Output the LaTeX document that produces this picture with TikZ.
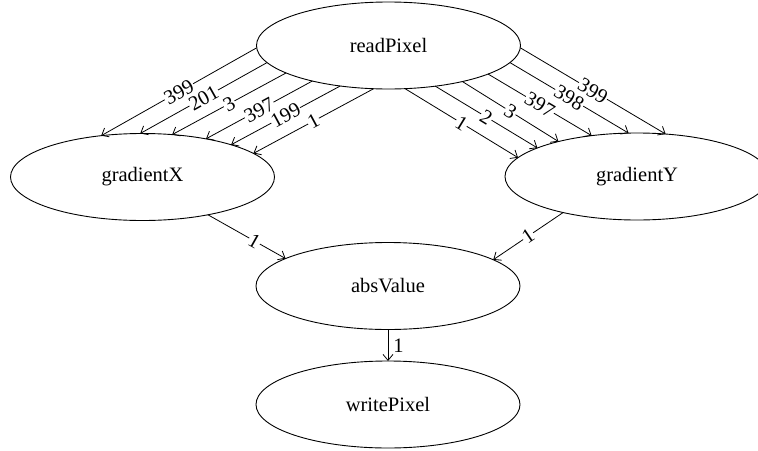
\documentclass[tikz,border=0pt]{standalone}
\usepackage{fontspec}
\setmainfont{Liberation Serif}
\usetikzlibrary{shapes.geometric,arrows.meta}

\tikzset{
  task/.style={draw, ellipse, line width=0.9pt, inner sep=0pt, outer sep=0pt,
    minimum width=264pt, minimum height=87pt,
    font=\fontsize{20.5pt}{24pt}\selectfont},
  flow/.style={line width=0.8pt, -{Straight Barb[length=6pt,width=10pt,line width=0.8pt]}},
  rate/.style={sloped, fill=white, inner sep=0.8pt, pos=0.5,
    font=\fontsize{20.5pt}{24pt}\selectfont},
}

\begin{document}
\begin{tikzpicture}[x=1pt, y=-1pt]
  \useasboundingbox (0,0) rectangle (758,450);
  \clip (0,0) rectangle (758,450);

  % tasks
  \node[task] (rp) at (388.5,45.5) {readPixel};
  \node[task] (gx) at (142.5,177)  {gradientX};
  \node[task] (gy) at (637,176.5)  {gradientY};
  \node[task] (av) at (388,286)    {absValue};
  \node[task] (wp) at (388,404.5)  {writePixel};

  % readPixel -> gradientX
  \draw[flow] (rp.181) -- node[rate]{399} (gx.135);
  \draw[flow] (rp.188) -- node[rate]{201} (gx.93);
  \draw[flow] (rp.195) -- node[rate]{3}   (gx.55);
  \draw[flow] (rp.205) -- node[rate]{397} (gx.31);
  \draw[flow] (rp.220) -- node[rate]{199} (gx.20);
  \draw[flow] (rp.251) -- node[rate]{1}   (gx.12);

  % readPixel -> gradientY
  \draw[flow] (rp.291)   -- node[rate]{1}   (gy.171.7);
  \draw[flow] (rp.319)   -- node[rate]{2}   (gy.164.6);
  \draw[flow] (rp.334.7) -- node[rate]{3}   (gy.156);
  \draw[flow] (rp.344.7) -- node[rate]{397} (gy.138.6);
  \draw[flow] (rp.352.4) -- node[rate]{398} (gy.101.6);
  \draw[flow] (rp.359.5) -- node[rate]{399} (gy.56);

  % gradients -> absValue
  \draw[flow] (gx.330) -- node[rate, pos=0.6]{1} (av.165.6);
  \draw[flow] (gy.206) -- node[rate, pos=0.5]{1} (av.14.7);

  % absValue -> writePixel
  \draw[flow] (av.south) -- node[right, inner sep=5pt,
    font=\fontsize{20.5pt}{24pt}\selectfont]{1} (wp.north);
\end{tikzpicture}
\end{document}
